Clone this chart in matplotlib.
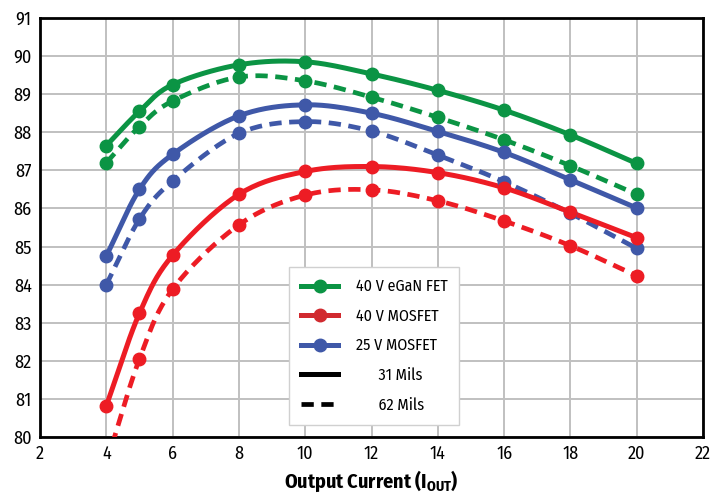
import numpy as np
import matplotlib
matplotlib.use("Agg")
import matplotlib.pyplot as plt
from matplotlib.lines import Line2D

FONT = ['Fira Sans Condensed', 'Liberation Sans', 'DejaVu Sans']
plt.rcParams['font.family'] = FONT
plt.rcParams['mathtext.fontset'] = 'custom'
plt.rcParams['mathtext.rm'] = 'Fira Sans Condensed:bold'
plt.rcParams['mathtext.it'] = 'Fira Sans Condensed:bold'
plt.rcParams['mathtext.bf'] = 'Fira Sans Condensed:bold'

# output current (A)
current = [4, 5, 6, 8, 10, 12, 14, 16, 18, 20]

# efficiency (%)
gan_31 = [87.65, 88.55, 89.25, 89.77, 89.85, 89.53, 89.10, 88.58, 87.93, 87.18]
gan_62 = [87.20, 88.15, 88.82, 89.45, 89.35, 88.92, 88.39, 87.80, 87.12, 86.37]
mos40_31 = [80.82, 83.25, 84.77, 86.37, 86.97, 87.10, 86.94, 86.54, 85.90, 85.23]
mos40_62 = [79.30, 82.05, 83.88, 85.57, 86.35, 86.49, 86.20, 85.67, 85.02, 84.23]
mos25_31 = [84.75, 86.50, 87.42, 88.43, 88.72, 88.50, 88.02, 87.47, 86.75, 86.01]
mos25_62 = [84.00, 85.72, 86.72, 87.97, 88.28, 88.03, 87.40, 86.70, 85.87, 84.95]

GREEN = '#0b9444'
RED = '#ed1c24'
BLUE = '#3f58a8'


def smooth(x, y, n=20):
    # catmull-rom curve through the points, like the smoothed lines in the original
    x = np.asarray(x, float)
    y = np.asarray(y, float)
    px = np.concatenate([[2 * x[0] - x[1]], x, [2 * x[-1] - x[-2]]])
    py = np.concatenate([[2 * y[0] - y[1]], y, [2 * y[-1] - y[-2]]])
    xs, ys = [], []
    t = np.linspace(0, 1, n, endpoint=False)
    for i in range(1, len(px) - 2):
        for p, out in ((px, xs), (py, ys)):
            p0, p1, p2, p3 = p[i - 1], p[i], p[i + 1], p[i + 2]
            out.extend(0.5 * (2 * p1 + (-p0 + p2) * t
                              + (2 * p0 - 5 * p1 + 4 * p2 - p3) * t ** 2
                              + (-p0 + 3 * p1 - 3 * p2 + p3) * t ** 3))
    xs.append(x[-1])
    ys.append(y[-1])
    return xs, ys


fig = plt.figure(figsize=(7.13, 4.95), dpi=100)
ax = fig.add_axes([0.0561, 0.1172, 0.93, 0.8465])

series = [
    (gan_31, GREEN, '-'), (gan_62, GREEN, '--'),
    (mos25_31, BLUE, '-'), (mos25_62, BLUE, '--'),
    (mos40_31, RED, '-'), (mos40_62, RED, '--'),
]
for vals, col, ls in series:
    sx, sy = smooth(current, vals)
    if ls == '-':
        ax.plot(sx, sy, color=col, lw=3.6, solid_capstyle='round', zorder=3)
    else:
        ax.plot(sx, sy, color=col, lw=3.4, dashes=(2.6, 1.6), zorder=3)
    ax.plot(current, vals, 'o', color=col, ms=9, zorder=4)

ax.set_xlim(2, 21.88)
ax.set_ylim(80, 91)
ax.set_xticks(range(2, 23, 2))
ax.set_yticks(range(80, 92))
ax.grid(True, color='#c0c0c0', lw=1.4)
ax.set_axisbelow(True)
ax.tick_params(length=0, labelsize=13, pad=6)
for s in ax.spines.values():
    s.set_linewidth(2)
    s.set_color('black')
ax.set_xlabel('Output Current (I$_{\\mathrm{OUT}}$)', fontsize=14.5,
              fontweight='bold', labelpad=4)

handles = [
    Line2D([], [], color=GREEN, lw=3.6, marker='o', ms=9),
    Line2D([], [], color='#d12a2f', lw=3.6, marker='o', ms=9),
    Line2D([], [], color=BLUE, lw=3.6, marker='o', ms=9),
    Line2D([], [], color='black', lw=3.6),
    Line2D([], [], color='black', lw=3.4, dashes=(2.6, 1.6)),
]
labels = ['40 V eGaN FET', '40 V MOSFET', '25 V MOSFET', '      31 Mils', '      62 Mils']
leg = ax.legend(handles, labels, loc='lower left', bbox_to_anchor=(0.376, 0.029),
                borderaxespad=0, fontsize=11.5, handlelength=2.3,
                labelspacing=0.85, borderpad=0.75, handletextpad=1.1,
                fancybox=False, framealpha=1, edgecolor='#d0d0d0')
leg.get_frame().set_linewidth(1)

fig.savefig('out.png', dpi=100)
